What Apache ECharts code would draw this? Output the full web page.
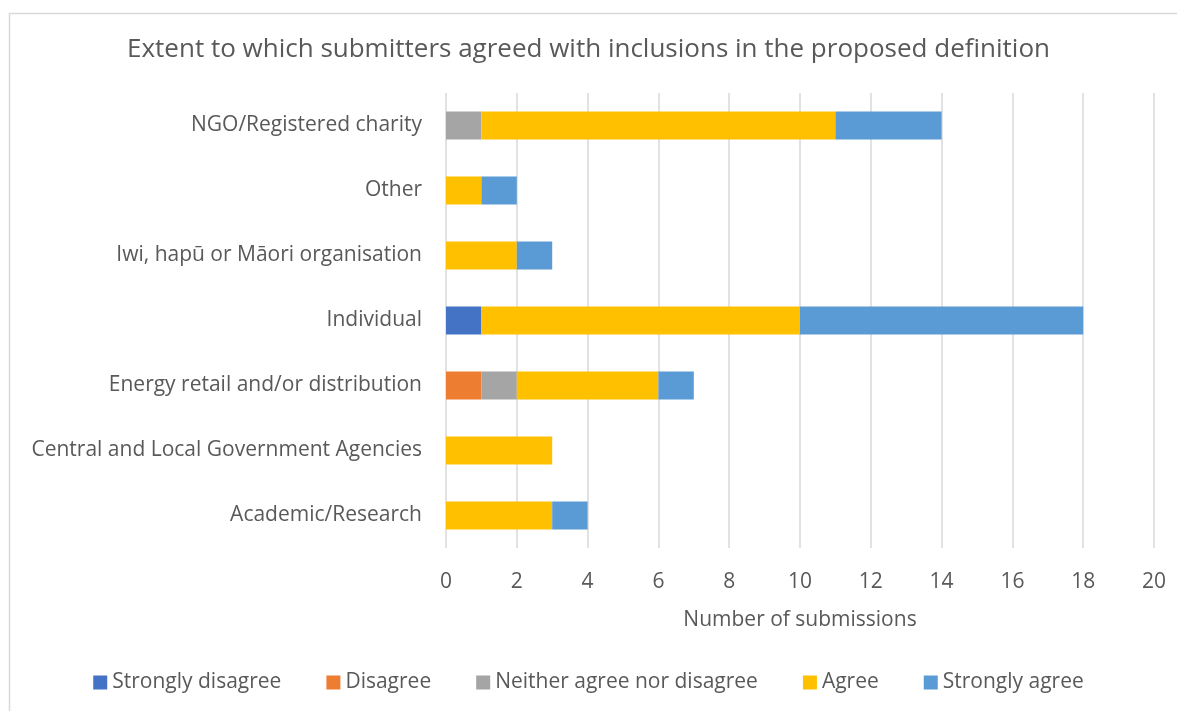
<!DOCTYPE html>
<html><head><meta charset="utf-8">
<script src="https://cdn.jsdelivr.net/npm/echarts@6/dist/echarts.min.js"></script>
<style>html,body{margin:0;padding:0;background:#fff}#c{width:1177px;height:711px}</style>
</head><body><div id="c"></div>
<script>
const categories = ["Academic/Research","Central and Local Government Agencies","Energy retail and/or distribution","Individual","Iwi, hapū or Māori organisation","Other","NGO/Registered charity"];
const seriesNames = ["Strongly disagree","Disagree","Neither agree nor disagree","Agree","Strongly agree"];
const stronglyDisagree = [0,0,0,1,0,0,0];
const disagree = [0,0,1,0,0,0,0];
const neither = [0,0,1,0,0,0,1];
const agree = [3,3,4,9,2,1,10];
const stronglyAgree = [1,0,1,8,1,1,3];
const colors = ["#4472C4","#ED7D31","#A5A5A5","#FFC000","#5B9BD5"];
const values = [stronglyDisagree, disagree, neither, agree, stronglyAgree];
const font = "'Open Sans', sans-serif";
const chart = echarts.init(document.getElementById('c'));
chart.setOption({
  animation:false,
  textStyle:{fontFamily:font},
  graphic:[{type:'rect',shape:{x:9.5,y:13.5,width:1200,height:720},style:{fill:'none',stroke:'#D9D9D9',lineWidth:1.5}}],
  title:{text:"Extent to which submitters agreed with inclusions in the proposed definition",left:'center',top:32,
    textStyle:{fontFamily:font,fontSize:26,fontWeight:'normal',color:'#595959'}},
  legend:{bottom:13,left:'center',itemWidth:14,itemHeight:14,itemGap:45,icon:'rect',
    textStyle:{fontFamily:font,fontSize:21,color:'#595959'},data:seriesNames},
  grid:{left:446,right:23,top:93,bottom:163},
  xAxis:{type:'value',min:0,max:20,interval:2,
    name:'Number of submissions',nameLocation:'middle',nameGap:62,
    nameTextStyle:{fontFamily:font,fontSize:21,color:'#595959'},
    axisLine:{show:false},axisTick:{show:false},
    axisLabel:{fontFamily:font,fontSize:21,color:'#595959',margin:24},
    splitLine:{show:true,lineStyle:{color:'#D9D9D9',width:1.5}}},
  yAxis:{type:'category',data:categories,
    axisLine:{show:false},axisTick:{show:false},
    axisLabel:{fontFamily:font,fontSize:21,color:'#595959',margin:24,padding:[5,0,0,0]}},
  series: seriesNames.map((n,i)=>({name:n,type:'bar',stack:'total',barWidth:'43%',
    itemStyle:{color:colors[i]},data:values[i].map(v=>v===0?null:v)}))
});
</script></body></html>
